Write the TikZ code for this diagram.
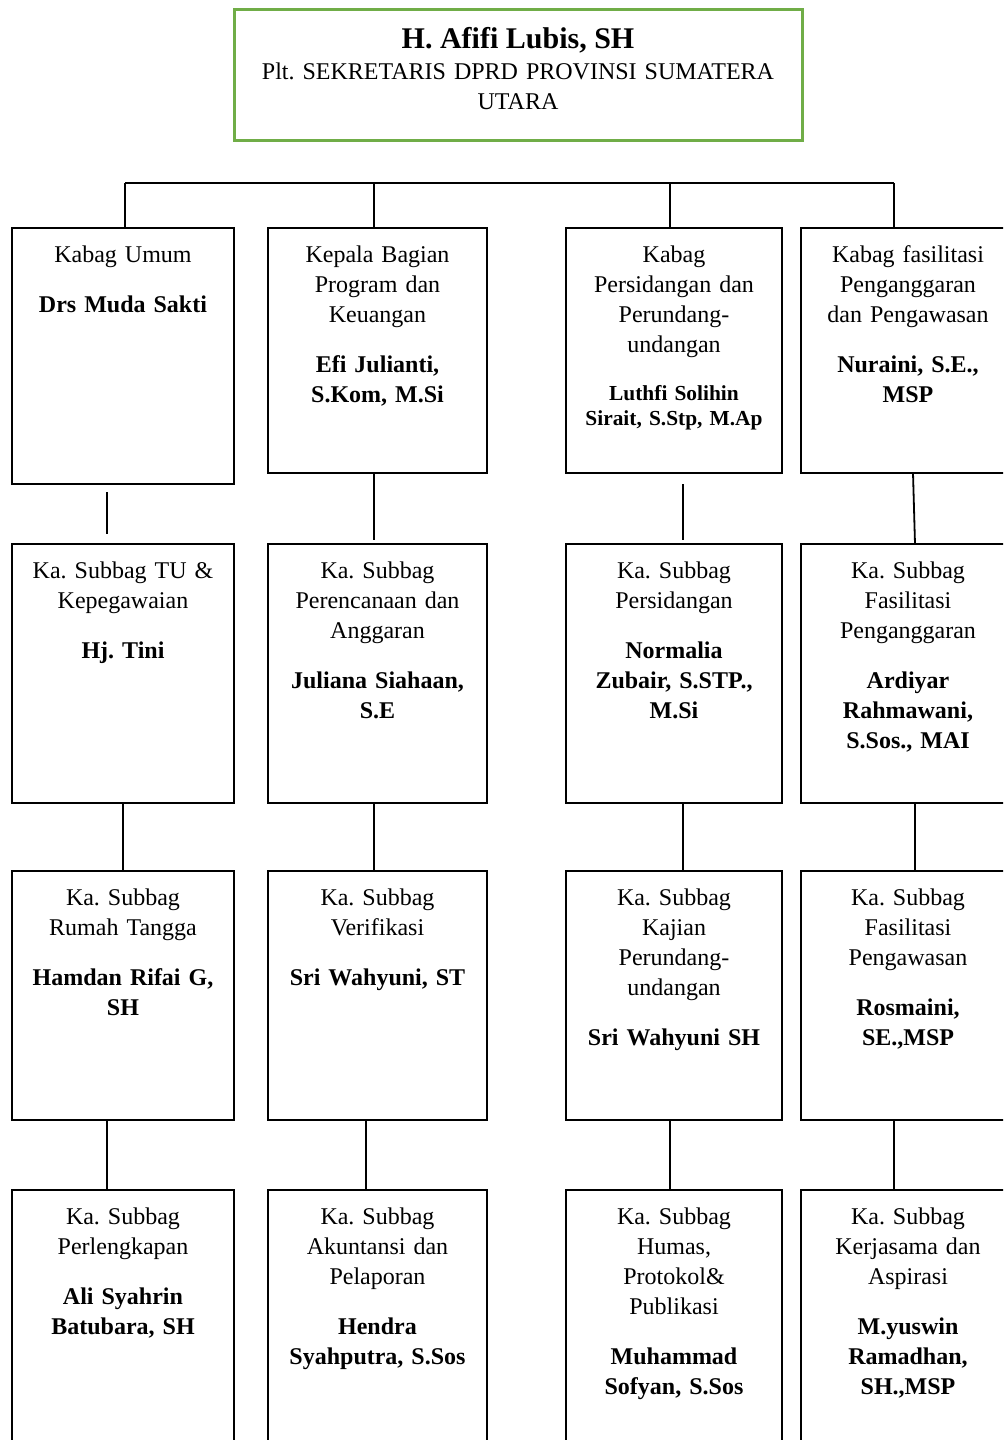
\documentclass[tikz,border=0pt]{standalone}
\usepackage{fontspec}
\setmainfont{Liberation Serif}
\definecolor{headgreen}{HTML}{70AD47}
\begin{document}
\frenchspacing
\begin{tikzpicture}[x=0.5pt,y=-0.5pt,
  unit/.style={draw=black, line width=1pt, rectangle, inner sep=0pt, outer sep=0pt},
  w1/.style={minimum width=111pt},
  w2/.style={minimum width=109.5pt},
  w3/.style={minimum width=108pt},
  w4/.style={minimum width=107pt},
  ra/.style={minimum height=122.5pt},
  rb/.style={minimum height=129.5pt},
  rc/.style={minimum height=124.5pt},
  rd/.style={minimum height=135pt},
  lbl/.style={anchor=north, inner sep=0pt, align=center, text width=110pt,
    font=\fontsize{12}{15}\selectfont\frenchspacing},
  nm/.style={lbl, font=\fontsize{12}{15}\selectfont\bfseries\frenchspacing},
  link/.style={line width=0.9pt},
  bus/.style={line width=1.4pt},
  headbox/.style={draw=headgreen, line width=1.5pt, rectangle, inner sep=0pt, outer sep=0pt,
    minimum width=284pt, minimum height=65.5pt}
]
\useasboundingbox (0,0) rectangle (1003,1440);
\clip (0,0) rectangle (1003,1440);

% head of the secretariat
\node[headbox] (head) at (518,74.5) {};
\node[anchor=base, inner sep=0pt, font=\fontsize{15}{18}\selectfont\bfseries\frenchspacing]
  (head-n) at ([yshift=-19.5pt]head.north) {H. Afifi Lubis, SH};
\node[lbl, text width=280pt] (head-l) at ([yshift=-24.5pt]head.north)
  {\strut Plt. SEKRETARIS DPRD PROVINSI SUMATERA\\UTARA};

% first row: heads of division
\node[unit, w1, minimum height=128pt] (a1) at (123,356) {};
\node[unit, w2, ra] (a2) at (377.5,350.5) {};
\node[unit, w3, ra] (a3) at (674,350.5) {};
\node[unit, w4, ra] (a4) at (908,350.5) {};

% second to fourth rows: heads of sub-division
\node[unit, w1, rb] (b1) at (123,673.5) {};
\node[unit, w2, rb] (b2) at (377.5,673.5) {};
\node[unit, w3, rb] (b3) at (674,673.5) {};
\node[unit, w4, rb] (b4) at (908,673.5) {};

\node[unit, w1, rc] (c1) at (123,995.5) {};
\node[unit, w2, rc] (c2) at (377.5,995.5) {};
\node[unit, w3, rc] (c3) at (674,995.5) {};
\node[unit, w4, rc] (c4) at (908,995.5) {};

\node[unit, w1, rd] (d1) at (123,1325) {};
\node[unit, w2, rd] (d2) at (377.5,1325) {};
\node[unit, w3, rd] (d3) at (674,1325) {};
\node[unit, w4, rd] (d4) at (908,1325) {};

% titles and names
\node[lbl] (a1-l) at ([yshift=-6.5pt]a1.north) {\strut Kabag Umum};
\node[nm]  (a1-n) at ([yshift=-31.5pt]a1.north) {\strut Drs Muda Sakti};
\node[lbl] (a2-l) at ([yshift=-6.5pt]a2.north) {\strut Kepala Bagian\\Program dan\\Keuangan};
\node[nm]  (a2-n) at ([yshift=-61.5pt]a2.north) {\strut Efi Julianti,\\S.Kom, M.Si};
\node[lbl] (a3-l) at ([yshift=-6.5pt]a3.north) {\strut Kabag\\Persidangan dan\\Perundang-\\undangan};
\node[lbl, font=\fontsize{10.7}{12.5}\selectfont\bfseries\frenchspacing] (a3-n) at ([yshift=-77.25pt]a3.north)
  {\strut Luthfi Solihin\\Sirait, S.Stp, M.Ap};
\node[lbl] (a4-l) at ([yshift=-6.5pt]a4.north) {\strut Kabag fasilitasi\\Penganggaran\\dan Pengawasan};
\node[nm]  (a4-n) at ([yshift=-61.5pt]a4.north) {\strut Nuraini, S.E.,\\MSP};

\node[lbl] (b1-l) at ([yshift=-6.5pt]b1.north) {\strut Ka. Subbag TU \&\\Kepegawaian};
\node[nm]  (b1-n) at ([yshift=-46.5pt]b1.north) {\strut Hj. Tini};
\node[lbl] (b2-l) at ([yshift=-6.5pt]b2.north) {\strut Ka. Subbag\\Perencanaan dan\\Anggaran};
\node[nm]  (b2-n) at ([yshift=-61.5pt]b2.north) {\strut Juliana Siahaan,\\S.E};
\node[lbl] (b3-l) at ([yshift=-6.5pt]b3.north) {\strut Ka. Subbag\\Persidangan};
\node[nm]  (b3-n) at ([yshift=-46.5pt]b3.north) {\strut Normalia\\Zubair, S.STP.,\\M.Si};
\node[lbl] (b4-l) at ([yshift=-6.5pt]b4.north) {\strut Ka. Subbag\\Fasilitasi\\Penganggaran};
\node[nm]  (b4-n) at ([yshift=-61.5pt]b4.north) {\strut Ardiyar\\Rahmawani,\\S.Sos., MAI};

\node[lbl] (c1-l) at ([yshift=-6.5pt]c1.north) {\strut Ka. Subbag\\Rumah Tangga};
\node[nm]  (c1-n) at ([yshift=-46.5pt]c1.north) {\strut Hamdan Rifai G,\\SH};
\node[lbl] (c2-l) at ([yshift=-6.5pt]c2.north) {\strut Ka. Subbag\\Verifikasi};
\node[nm]  (c2-n) at ([yshift=-46.5pt]c2.north) {\strut Sri Wahyuni, ST};
\node[lbl] (c3-l) at ([yshift=-6.5pt]c3.north) {\strut Ka. Subbag\\Kajian\\Perundang-\\undangan};
\node[nm]  (c3-n) at ([yshift=-76.5pt]c3.north) {\strut Sri Wahyuni SH};
\node[lbl] (c4-l) at ([yshift=-6.5pt]c4.north) {\strut Ka. Subbag\\Fasilitasi\\Pengawasan};
\node[nm]  (c4-n) at ([yshift=-61.5pt]c4.north) {\strut Rosmaini,\\SE.,MSP};

\node[lbl] (d1-l) at ([yshift=-6.5pt]d1.north) {\strut Ka. Subbag\\Perlengkapan};
\node[nm]  (d1-n) at ([yshift=-46.5pt]d1.north) {\strut Ali Syahrin\\Batubara, SH};
\node[lbl] (d2-l) at ([yshift=-6.5pt]d2.north) {\strut Ka. Subbag\\Akuntansi dan\\Pelaporan};
\node[nm]  (d2-n) at ([yshift=-61.5pt]d2.north) {\strut Hendra\\Syahputra, S.Sos};
\node[lbl] (d3-l) at ([yshift=-6.5pt]d3.north) {\strut Ka. Subbag\\Humas,\\Protokol\&\\Publikasi};
\node[nm]  (d3-n) at ([yshift=-76.5pt]d3.north) {\strut Muhammad\\Sofyan, S.Sos};
\node[lbl] (d4-l) at ([yshift=-6.5pt]d4.north) {\strut Ka. Subbag\\Kerjasama dan\\Aspirasi};
\node[nm]  (d4-n) at ([yshift=-61.5pt]d4.north) {\strut M.yuswin\\Ramadhan,\\SH.,MSP};

% bus over the first row
\draw[bus] ([xshift=1pt,yshift=22.5pt]a1.north) -- ([xshift=-7pt,yshift=22.5pt]a4.north);
\draw[link] ([xshift=1pt]a1.north) -- ++(0,-45);
\draw[link] ([xshift=-1.75pt]a2.north) -- ++(0,-45);
\draw[link] ([xshift=-2pt]a3.north) -- ++(0,-45);
\draw[link] ([xshift=-7pt]a4.north) -- ++(0,-45);

% first row to second row
\draw[link, shorten <=4pt, shorten >=5pt] ([xshift=-8pt]a1.south) -- ([xshift=-8pt]b1.north);
\draw[link, shorten >=2pt] ([xshift=-1.75pt]a2.south) -- ([xshift=-1.75pt]b2.north);
\draw[link, shorten <=5.5pt, shorten >=2pt] ([xshift=4.5pt]a3.south) -- ([xshift=4.5pt]b3.north);
\draw[link] ([xshift=2.5pt]a4.south) -- ([xshift=3.5pt]b4.north);

% second row to third row
\draw[link] (b1.south) -- (c1.north);
\draw[link] ([xshift=-1.75pt]b2.south) -- ([xshift=-1.75pt]c2.north);
\draw[link] ([xshift=4.5pt]b3.south) -- ([xshift=4.5pt]c3.north);
\draw[link] ([xshift=3.5pt]b4.south) -- ([xshift=3.5pt]c4.north);

% third row to fourth row
\draw[link] ([xshift=-8pt]c1.south) -- ([xshift=-8pt]d1.north);
\draw[link] ([xshift=-5.75pt]c2.south) -- ([xshift=-5.75pt]d2.north);
\draw[link] ([xshift=-2pt]c3.south) -- ([xshift=-2pt]d3.north);
\draw[link] ([xshift=-7pt]c4.south) -- ([xshift=-7pt]d4.north);
\end{tikzpicture}
\end{document}
